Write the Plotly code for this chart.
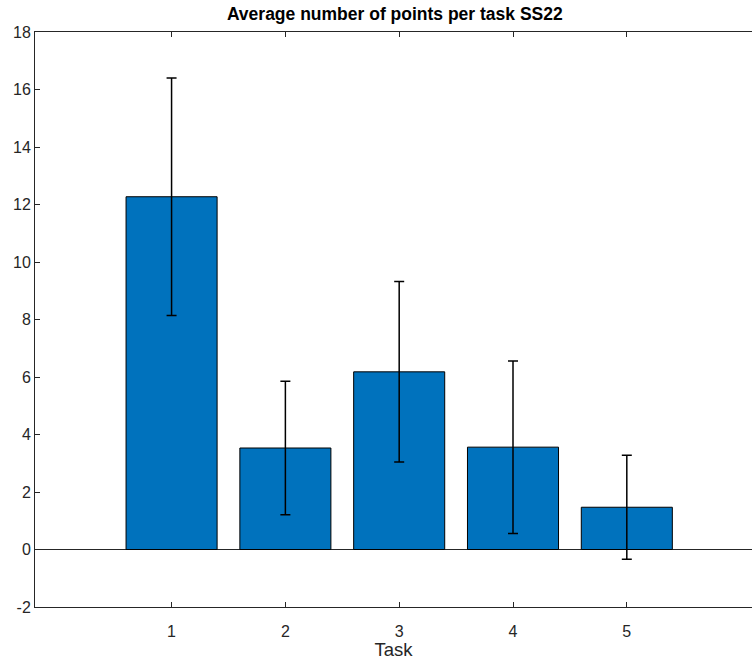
import plotly.graph_objects as go

tasks = [1, 2, 3, 4, 5]
mean_points = [12.27, 3.53, 6.18, 3.56, 1.47]
std_points = [4.13, 2.32, 3.14, 3.00, 1.81]
y_ticks = [-2, 0, 2, 4, 6, 8, 10, 12, 14, 16, 18]
y_tick_labels = ["-2", "0", "2", "4", "6", "8", "10", "12", "14", "16", "18"]

fig = go.Figure()
fig.add_trace(go.Bar(
    x=tasks, y=mean_points, width=0.8,
    marker=dict(color="#0072BD", line=dict(color="#000000", width=1)),
    error_y=dict(type="data", array=std_points, visible=True,
                 color="#000000", thickness=1.5, width=5),
    showlegend=False,
))

axis_color = "#262626"
fig.update_layout(
    width=752, height=660,
    margin=dict(l=35, r=0, t=32, b=53, autoexpand=False),
    paper_bgcolor="white", plot_bgcolor="white",
    font=dict(family="Liberation Sans, Arial, sans-serif", color=axis_color, size=16),
    title=dict(text="<b>Average number of points per task SS22</b>",
               x=0.525, xanchor="center", y=0.979, yanchor="middle",
               font=dict(size=17.5, color="#000000")),
    xaxis=dict(range=[-0.2, 6.1], tickvals=tasks, ticktext=[str(t) for t in tasks],
               showline=True, linecolor=axis_color, linewidth=1, mirror="ticks",
               ticks="inside", ticklen=5, tickcolor=axis_color, showgrid=False,
               zeroline=False, automargin=False, ticklabelstandoff=10,
               title=dict(text="Task", font=dict(size=18.5, color=axis_color), standoff=1),
               tickfont=dict(size=16, color=axis_color)),
    yaxis=dict(range=[-2, 18], tickvals=y_ticks, ticktext=y_tick_labels,
               showline=True, linecolor=axis_color, linewidth=1, mirror=False,
               ticks="inside", ticklen=5, tickcolor=axis_color, showgrid=False,
               zeroline=True, zerolinecolor=axis_color, zerolinewidth=1,
               automargin=False,
               tickfont=dict(size=16, color=axis_color)),
)

fig.write_html("out.html", config={"displayModeBar": False},
               post_script="document.body.style.margin='0';document.body.style.padding='0';")
